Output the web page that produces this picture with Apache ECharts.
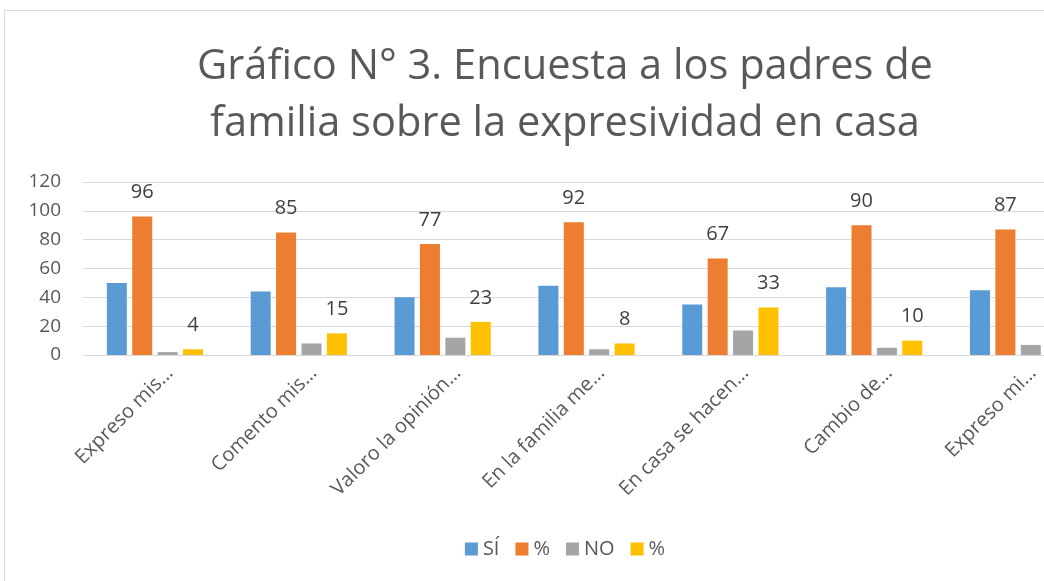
<!DOCTYPE html>
<html lang="es">
<head>
    <meta charset="UTF-8">
    <script src="https://cdn.jsdelivr.net/npm/echarts@6/dist/echarts.min.js"></script>
    <title>Gráfico N° 3</title>
    <style>
        html, body { margin: 0; padding: 0; overflow: hidden; background: #fff; }
        #main { position: absolute; left: 4px; top: 10px; width: 1120px; height: 600px;
                border-left: 1px solid #d9d9d9; border-top: 1px solid #d9d9d9; }
    </style>
</head>
<body>
<div id="main"></div>
<script type="text/javascript">
    // datos
    var categorias = ['Expreso mis…', 'Comento mis…', 'Valoro la opinión…', 'En la familia me…',
                      'En casa se hacen…', 'Cambio de…', 'Expreso mi…'];
    var si     = [50, 44, 40, 48, 35, 47, 45];
    var pctSi  = [96, 85, 77, 92, 67, 90, 87];
    var no     = [2, 8, 12, 4, 17, 5, 7];
    var pctNo  = [4, 15, 23, 8, 33, 10, 13];
    var ticksY = [0, 20, 40, 60, 80, 100, 120];

    var gris = '#595959';
    var fuente = '"Open Sans", sans-serif';

    var myChart = echarts.init(document.getElementById('main'));

    function etiqueta(show) {
        return {
            show: show,
            position: 'top',
            distance: 14,
            color: '#404040',
            fontSize: 20,
            fontFamily: fuente
        };
    }

    var option = {
        animation: false,
        title: {
            text: 'Gráfico N° 3. Encuesta a los padres de\nfamilia sobre la expresividad en casa',
            left: 'center',
            top: 23,
            textStyle: {
                color: gris,
                fontSize: 41.6,
                fontWeight: 'normal',
                fontFamily: fuente,
                lineHeight: 57
            }
        },
        legend: {
            bottom: 47,
            left: 'center',
            itemWidth: 13,
            itemHeight: 13,
            itemGap: 16,
            icon: 'rect',
            data: ['SÍ', '% (SÍ)', 'NO', '% (NO)'],
            formatter: function (name) {
                return name.charAt(0) === '%' ? '%' : name;
            },
            textStyle: { color: gris, fontSize: 20, fontFamily: fuente }
        },
        grid: [
            { left: 78, top: 171, width: 1007, height: 173 },
            { left: 93, top: 171, width: 1007, height: 173 }
        ],
        xAxis: [
            {
                type: 'category',
                gridIndex: 0,
                data: categorias,
                axisLine: { lineStyle: { color: '#d9d9d9', width: 1 } },
                axisTick: { show: false },
                axisLabel: { show: false }
            },
            {
                type: 'category',
                gridIndex: 1,
                data: categorias,
                axisLine: { show: false },
                axisTick: { show: false },
                axisLabel: {
                    interval: 0,
                    rotate: 45,
                    margin: 15,
                    color: gris,
                    fontSize: 20,
                    fontFamily: fuente
                }
            }
        ],
        yAxis: [
            {
                type: 'value',
                gridIndex: 0,
                min: ticksY[0],
                max: ticksY[ticksY.length - 1],
                interval: 20,
                axisLine: { show: false },
                axisTick: { show: false },
                splitLine: { lineStyle: { color: '#d9d9d9', width: 1 } },
                axisLabel: {
                    margin: 22,
                    color: gris,
                    fontSize: 19,
                    fontFamily: fuente
                }
            },
            {
                type: 'value',
                gridIndex: 1,
                min: 0,
                max: 120,
                show: false
            }
        ],
        series: [
            {
                name: 'SÍ', type: 'bar', data: si,
                barWidth: 20, barGap: '27%',
                itemStyle: { color: '#5b9bd5' },
                label: etiqueta(false)
            },
            {
                name: '% (SÍ)', type: 'bar', data: pctSi,
                barWidth: 20, barGap: '27%',
                itemStyle: { color: '#ed7d31' },
                label: etiqueta(true)
            },
            {
                name: 'NO', type: 'bar', data: no,
                barWidth: 20, barGap: '27%',
                itemStyle: { color: '#a5a5a5' },
                label: etiqueta(false)
            },
            {
                name: '% (NO)', type: 'bar', data: pctNo,
                barWidth: 20, barGap: '27%',
                itemStyle: { color: '#ffc000' },
                label: etiqueta(true)
            }
        ]
    };

    myChart.setOption(option);
</script>
</body>
</html>
